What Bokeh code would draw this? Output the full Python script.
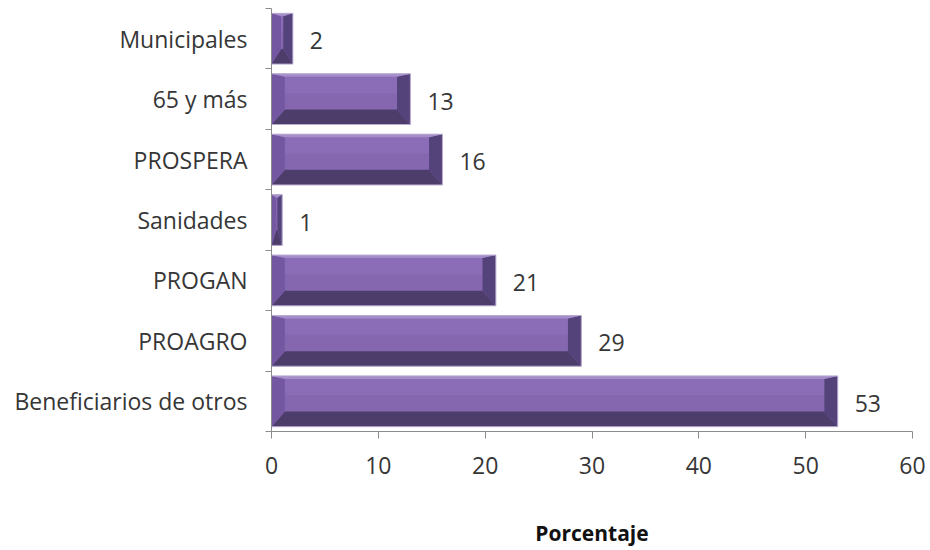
from bokeh.plotting import figure
from bokeh.models import Range1d, FixedTicker, ColumnDataSource
from bokeh.core.properties import value
from bokeh.embed import file_html
from bokeh.resources import INLINE

# ---- data (bottom to top) ----
categories = ["Beneficiarios de otros", "PROAGRO", "PROGAN", "Sanidades",
              "PROSPERA", "65 y más", "Municipales"]
values = [53, 29, 21, 1, 16, 13, 2]
x_ticks = [0, 10, 20, 30, 40, 50, 60]
x_title = "Porcentaje"

FONT = "Open Sans"
TEXT = "#363636"
AXIS = "#8c8c8c"

n = len(categories)
centers = [i + 0.5 for i in range(n)]
bounds = [float(i) for i in range(n + 1)]

p = figure(width=930, height=550, output_backend="svg", toolbar_location=None,
           x_range=Range1d(0, 60), y_range=Range1d(0, n),
           min_border_left=271, min_border_right=18, min_border_top=8,
           min_border_bottom=119)
p.outline_line_color = None
p.xgrid.grid_line_color = None
p.ygrid.grid_line_color = None
p.background_fill_color = "white"
p.border_fill_color = "white"

# ---- beveled bars built from the values ----
half = 0.42
bx_max = 1.25   # bevel width (x units)
by = 0.25       # bottom bevel (y units)
bt = 0.05       # top bevel
face_xs, face_ys = [], []
mid_xs, mid_ys = [], []
bot_xs, bot_ys = [], []
right_xs, right_ys = [], []
left_xs, left_ys = [], []
top_xs, top_ys = [], []
for v, c in zip(values, centers):
    y0, y1 = c - half, c + half
    bx = min(bx_max, v * 0.45)
    face_xs.append([0, v, v, 0]); face_ys.append([y0, y0, y1, y1])
    ym = (y0 + by + y1 - bt) / 2
    mid_xs.append([bx, v - bx, v - bx, bx]); mid_ys.append([y0 + by, y0 + by, ym, ym])
    bot_xs.append([0, v, v - bx, bx]); bot_ys.append([y0, y0, y0 + by, y0 + by])
    right_xs.append([v, v, v - bx, v - bx]); right_ys.append([y0, y1, y1 - bt, y0 + by])
    left_xs.append([0, bx, bx, 0]); left_ys.append([y0, y0 + by, y1 - bt, y1])
    top_xs.append([0, v, v - bx, bx]); top_ys.append([y1, y1, y1 - bt, y1 - bt])

p.patches(face_xs, face_ys, fill_color="#8b6db7", line_color=None)
p.patches(mid_xs, mid_ys, fill_color="#8467ae", line_color=None)
p.patches(bot_xs, bot_ys, fill_color="#4d3d6b", line_color=None)
p.patches(right_xs, right_ys, fill_color="#54427a", line_color=None)
p.patches(left_xs, left_ys, fill_color="#7457a1", line_color=None)
p.patches(top_xs, top_ys, fill_color="#a58dca", line_color=None)
p.patches(face_xs, face_ys, fill_color=None, line_color="#b9acd0", line_width=1)

# ---- value labels ----
src = ColumnDataSource(dict(x=values, y=centers, t=[str(v) for v in values]))
p.text(x="x", y="y", text="t", source=src, x_offset=17, y_offset=2,
       text_align="left", text_baseline="middle",
       text_font=value(FONT), text_font_size="23px", text_color=TEXT)

# ---- x axis ----
xa = p.xaxis[0]
xa.ticker = FixedTicker(ticks=x_ticks, minor_ticks=[])
xa.axis_line_color = AXIS
xa.major_tick_line_color = AXIS
xa.major_tick_in = 0
xa.major_tick_out = 7
xa.minor_tick_line_color = None
xa.major_label_text_font = FONT
xa.major_label_text_font_size = "23px"
xa.major_label_text_color = TEXT
xa.major_label_standoff = 18
xa.axis_label = x_title
xa.axis_label_text_font = FONT
xa.axis_label_text_font_size = "21px"
xa.axis_label_text_font_style = "bold"
xa.axis_label_text_color = "#111111"
xa.axis_label_standoff = 42

# ---- y axis (labels at centres, ticks between categories) ----
ya = p.yaxis[0]
ya.ticker = FixedTicker(ticks=centers, minor_ticks=bounds)
ya.major_label_overrides = {c: lab for c, lab in zip(centers, categories)}
ya.axis_line_color = AXIS
ya.major_tick_line_color = None
ya.major_tick_in = 0
ya.major_tick_out = 0
ya.minor_tick_line_color = AXIS
ya.minor_tick_in = 0
ya.minor_tick_out = 6
ya.major_label_text_font = FONT
ya.major_label_text_font_size = "23px"
ya.major_label_text_color = TEXT
ya.major_label_standoff = 18

open("out.html", "w").write(file_html(p, INLINE))
